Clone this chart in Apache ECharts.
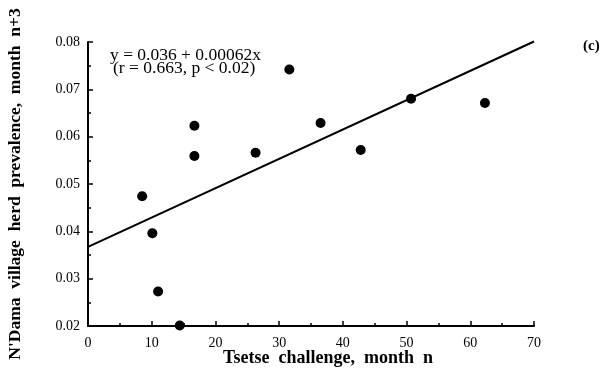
<!DOCTYPE html>
<html><head><meta charset="utf-8">
<script src="https://cdn.jsdelivr.net/npm/echarts@6/dist/echarts.min.js"></script>
<style>html,body{margin:0;padding:0;background:#fff}#c{width:600px;height:369px}</style>
</head><body><div id="c"></div>
<script>
const challenge = [8.5, 10.1, 11.0, 14.4, 16.7, 16.7, 26.3, 31.6, 36.5, 42.8, 50.7, 62.3];
const prevalence = [0.0474, 0.0396, 0.0273, 0.0201, 0.0623, 0.0559, 0.0566, 0.0742, 0.0629, 0.0572, 0.0680, 0.0671];
const fitX = [0, 70];
const fitY = [0.0367, 0.0801];
const xTicks = [0, 10, 20, 30, 40, 50, 60, 70];
const yTicks = [0.02, 0.03, 0.04, 0.05, 0.06, 0.07, 0.08];
const equationText = 'y = 0.036 + 0.00062x';
const statsText = '(r = 0.663, p < 0.02)';
const panelLabel = '(c)';
const xTitle = 'Tsetse  challenge,  month  n';
const yTitle = "N'Dama  village  herd  prevalence,  month  n+3";

const serif = '"Liberation Serif", "Times New Roman", serif';
const chart = echarts.init(document.getElementById('c'), null, {renderer: 'canvas'});
chart.setOption({
  animation: false,
  backgroundColor: '#fff',
  grid: {left: 88, right: 66, top: 42, bottom: 43, containLabel: false, outerBoundsMode: 'none'},
  xAxis: {
    type: 'value', min: xTicks[0], max: xTicks[xTicks.length - 1], interval: 10,
    axisLine: {lineStyle: {color: '#000', width: 2}},
    axisTick: {inside: true, length: 5, lineStyle: {color: '#000', width: 1.5}},
    minorTick: {show: true, splitNumber: 2, length: 3, lineStyle: {color: '#000', width: 1.5}},
    splitLine: {show: false},
    axisLabel: {color: '#000', fontFamily: serif, fontSize: 14, margin: 10},
    name: xTitle, nameLocation: 'middle', nameGap: 23, nameMoveOverlap: false,
    nameTextStyle: {color: '#000', fontFamily: serif, fontSize: 18, fontWeight: 'bold', padding: [0, 0, 0, 34]}
  },
  yAxis: {
    type: 'value', min: yTicks[0], max: yTicks[yTicks.length - 1], interval: 0.01,
    axisLine: {show: true, lineStyle: {color: '#000', width: 2}},
    axisTick: {show: true, inside: true, length: 5, lineStyle: {color: '#000', width: 1.5}},
    minorTick: {show: true, splitNumber: 2, length: 3, lineStyle: {color: '#000', width: 1.5}},
    splitLine: {show: false},
    axisLabel: {color: '#000', fontFamily: serif, fontSize: 14, margin: 8,
      formatter: v => v.toFixed(2)},
    name: yTitle, nameLocation: 'middle', nameGap: 64, nameRotate: 90, nameMoveOverlap: false,
    nameTextStyle: {color: '#000', fontFamily: serif, fontSize: 17.5, fontWeight: 'bold'}
  },
  series: [
    {type: 'line', data: fitX.map((x, i) => [x, fitY[i]]), symbol: 'none', clip: false,
      lineStyle: {color: '#000', width: 2}, z: 2},
    {type: 'scatter', data: challenge.map((x, i) => [x, prevalence[i]]), symbol: 'circle',
      symbolSize: 10, itemStyle: {color: '#000', opacity: 1}, clip: false, z: 3}
  ],
  graphic: [
    {type: 'text', left: 110, top: 46, style: {text: equationText, fill: '#000', font: '17.5px ' + serif}},
    {type: 'text', left: 113, top: 59, style: {text: statsText, fill: '#000', font: '17.5px ' + serif}},
    {type: 'text', left: 583, top: 39, style: {text: panelLabel, fill: '#000', font: 'bold 15px ' + serif}}
  ]
});
</script></body></html>
